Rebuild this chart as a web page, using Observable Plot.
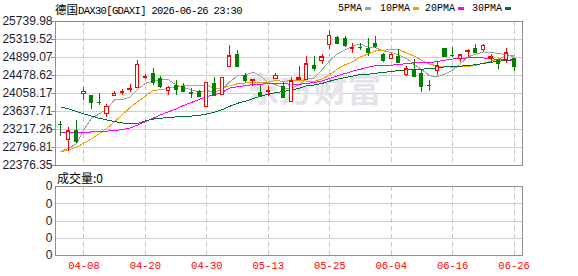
<!DOCTYPE html>
<html><head><meta charset="utf-8">
<script src="https://cdn.jsdelivr.net/npm/d3@7"></script>
<script src="https://cdn.jsdelivr.net/npm/@observablehq/plot@0.6"></script>
<style>
body{margin:0;background:#fff;}
#wrap{position:relative;width:578px;height:276px;overflow:hidden;background:#fff;}
#wrap > *{position:absolute;}
.mono{font-family:"Liberation Mono","DejaVu Sans Mono",monospace;}
.cjk{font-family:"Noto Sans CJK SC",sans-serif;}
</style></head><body><div id="wrap"></div>
<script>
// ---- data ----
const dates = ["04-01","04-02","04-07","04-08","04-09","04-10","04-13","04-14","04-15","04-16","04-17","04-20","04-21","04-22","04-23","04-24","04-27","04-28","04-29","04-30","05-04","05-05","05-06","05-07","05-08","05-11","05-12","05-13","05-14","05-15","05-18","05-19","05-20","05-21","05-22","05-25","05-26","05-27","05-28","05-29","06-01","06-02","06-03","06-04","06-05","06-08","06-09","06-10","06-11","06-12","06-15","06-16","06-17","06-18","06-19","06-22","06-23","06-24","06-25","06-26"];
const open = [23345,22970,23195,24041,24010,23850,23590,24005,24070,24150,24189,24420,24522,24406,24110,24250,24230,24075,24100,23738,24281,24033,24677,24964,24475,24360,24080,24100,24397,24227,23862,24385,24366,24716,24809,25197,25367,25352,25110,25140,25119,25220,24964,24871,24925,24483,24615,24530,24235,24576,25104,24955,24863,25030,25104,25080,24863,24832,24848,24871];
const high = [23412,23257,23430,24204,24015,24057,23800,24110,24150,24258,24824,24500,24646,24444,24227,24360,24290,24180,24126,24320,24436,24430,25174,25065,24537,24372,24250,24250,24522,24304,24436,24700,24925,24925,24980,25507,25390,25390,25230,25220,25336,25390,25003,24987,25080,24700,24848,24615,24359,24786,25110,25135,24980,25080,25197,25212,24980,24840,25104,24880];
const low = [23063,22698,22880,23901,23690,23784,23505,23980,24010,24087,24180,24380,24250,24173,24010,24020,24090,23935,23975,23730,23995,24015,24670,24690,24304,24227,23955,23994,24390,23955,23839,24380,24360,24576,24731,25080,25220,25135,25000,25065,24930,25100,24785,24865,24770,24460,24444,24072,24110,24483,24920,24902,24793,24902,25003,25026,24793,24615,24770,24576];
const close = [23330,23179,22946,24103,23839,23838,23746,24056,24085,24170,24731,24440,24305,24227,24189,24140,24110,24060,23995,24304,24010,24421,24933,24693,24366,24368,23986,24110,24475,23971,24343,24420,24747,24638,24910,25406,25236,25181,25120,25130,25026,25150,24832,24964,24793,24630,24460,24227,24245,24692,24925,24945,24956,25040,25026,25173,24910,24770,25003,24692];
const ma5 = [22700,22780,22880,23220,23479,23581,23694,23916,23913,23979,24158,24296,24346,24375,24378,24260,24194,24145,24099,24122,24096,24158,24333,24472,24485,24556,24469,24305,24261,24182,24177,24264,24391,24424,24612,24824,24987,25074,25171,25215,25139,25121,25052,25020,24953,24874,24736,24615,24471,24451,24510,24607,24753,24912,24978,25028,25021,24984,24976,24910];
const ma10 = [22700,22740,22800,22900,23000,23120,23250,23400,23560,23729,23869,23995,24131,24144,24179,24209,24245,24246,24237,24250,24178,24176,24239,24286,24303,24326,24314,24319,24367,24333,24367,24367,24348,24342,24397,24501,24626,24733,24797,24913,24981,25054,25063,25096,25084,25006,24929,24833,24746,24702,24692,24671,24684,24691,24715,24769,24814,24868,24944,24944];
const ma20 = [23150,23145,23140,23150,23160,23170,23180,23195,23215,23250,23320,23400,23480,23560,23630,23700,23780,23850,23920,23990,24024,24086,24185,24215,24241,24267,24279,24282,24302,24292,24272,24271,24293,24314,24350,24413,24470,24526,24582,24623,24674,24710,24705,24719,24740,24753,24777,24783,24771,24808,24837,24863,24873,24893,24899,24888,24871,24851,24845,24823];
const ma30 = [23745,23700,23640,23580,23530,23480,23440,23400,23370,23350,23360,23420,23460,23480,23500,23510,23520,23530,23550,23580,23620,23680,23760,23830,23880,23940,24000,24040,24080,24104,24138,24179,24239,24257,24293,24345,24395,24432,24467,24499,24509,24532,24550,24574,24595,24611,24623,24628,24637,24649,24680,24697,24698,24710,24732,24759,24789,24811,24829,24853];
const yTicks = [22376.35,22796.81,23217.26,23637.71,24058.17,24478.62,24899.07,25319.52,25739.98];
const xTickDates = ["04-08","04-20","04-30","05-13","05-25","06-04","06-16","06-26"];
const volTicks = [0,1,2,3,4];
const volTickLabels = ["0","0","0","0","0"];
const maNames = ["5PMA","10PMA","20PMA","30PMA"];
const titleCn = "德国";
const titleRest = "DAX30[GDAXI] 2026-06-26 23:30";
const volLabel = "成交量:0";
const watermark = "东方财富";

// ---- styling ----
const RED = "#ff0000", GRN = "#008000";
const maColors = ["#a0a0a0","#f0a000","#ff00ff","#006e30"];
const xRange = [56.15, 517.85];
const sty = {fontFamily:"'Liberation Sans',Arial,sans-serif", fontSize:"12px", background:"transparent", overflow:"visible", shapeRendering:"crispEdges"};

const rows = dates.map((d,i)=>({d, o:open[i], h:high[i], l:low[i], c:close[i]}));
const up = rows.filter(r=>r.c>=r.o), dn = rows.filter(r=>r.c<r.o);
const mas = [ma5,ma10,ma20,ma30];

const main = Plot.plot({
  width:578, height:170, marginTop:21, marginBottom:5, marginLeft:55, marginRight:56,
  style: sty,
  x:{type:"band", domain:dates, range:xRange, axis:null},
  y:{domain:[yTicks[0], yTicks[yTicks.length-1]], axis:null},
  marks:[
    Plot.gridY(yTicks, {stroke:"#d0d0d0", strokeOpacity:1}),
    Plot.ruleX(xTickDates, {stroke:"#c8c8c8", strokeDasharray:"5,3"}),
    Plot.text([watermark], {frameAnchor:"top-left", text:d=>d, dx:190, dy:56, lineAnchor:"top", textAnchor:"start", fontSize:34, fontWeight:"bold", fontFamily:"'Noto Sans CJK SC',sans-serif", fill:"#e3e3e9"}),
    ...mas.map((m,k)=>Plot.line(dates, {x:d=>d, y:(d,i)=>m[i], stroke:maColors[k], strokeWidth:1})),
    Plot.ruleX(up, {x:"d", y1:"l", y2:"h", stroke:RED}),
    Plot.ruleX(dn, {x:"d", y1:"l", y2:"h", stroke:GRN}),
    Plot.barY(dn, {x:"d", y1:"o", y2:"c", fill:GRN, insetLeft:1.4, insetRight:1.4}),
    Plot.barY(up, {x:"d", y1:"o", y2:"c", fill:"#fff", stroke:RED, insetLeft:1.85, insetRight:1.85}),
    Plot.tickY(dn, {x:"d", y:"c", stroke:GRN, insetLeft:1.4, insetRight:1.4}),
    Plot.tickY(up, {x:"d", y:"c", stroke:RED, insetLeft:1.4, insetRight:1.4}),
    Plot.frame({stroke:"#909090"}),
    Plot.axisY(yTicks, {tickSize:4, tickFormat:()=>"", color:"#909090"}),
    Plot.axisY(yTicks, {tickSize:0, tickPadding:3, tickFormat:d=>d.toFixed(2), color:"#1c1c30"})
  ]
});

const vol = Plot.plot({
  width:578, height:100, marginTop:10, marginBottom:21, marginLeft:55, marginRight:56,
  style: sty,
  x:{type:"band", domain:dates, range:xRange, axis:null},
  y:{domain:[volTicks[0], volTicks[volTicks.length-1]], axis:null},
  marks:[
    Plot.gridY(volTicks.slice(1,-1), {stroke:"#d0d0d0", strokeOpacity:1}),
    Plot.ruleX(xTickDates, {stroke:"#c8c8c8", strokeDasharray:"5,3"}),
    Plot.frame({stroke:"#909090"}),
    Plot.axisY(volTicks, {tickSize:0, tickPadding:3, tickFormat:(d,i)=>volTickLabels[i], color:"#1c1c30"}),
    Plot.axisX(xTickDates, {tickSize:0, tickPadding:6, tickFormat:d=>d, color:RED, fontSize:10.5, fontFamily:"'Liberation Mono','DejaVu Sans Mono',monospace"})
  ]
});

const wrap = document.getElementById("wrap");
main.style.left = "0px"; main.style.top = "0px";
vol.style.left = "0px"; vol.style.top = "176px";
wrap.appendChild(main);
wrap.appendChild(vol);

// title
const t = document.createElement("div");
t.style.cssText = "left:55px;top:1px;white-space:nowrap;line-height:16px;color:#000;";
t.innerHTML = `<span class="cjk" style="font-size:11.5px">${titleCn}</span><span class="mono" style="font-size:10.5px;letter-spacing:-0.65px">${titleRest}</span>`;
wrap.appendChild(t);

// legend
const legX = [338,380,425,472];
maNames.forEach((n,k)=>{
  const s = document.createElement("div");
  s.className = "mono";
  s.style.cssText = `left:${legX[k]}px;top:2px;font-size:10px;line-height:14px;color:#000;white-space:nowrap;`;
  s.textContent = n;
  wrap.appendChild(s);
  const sw = document.createElement("div");
  const w = n.length*6 + 3;
  sw.style.cssText = `left:${legX[k]+w}px;top:7px;width:6px;height:3px;background:${maColors[k]};`;
  wrap.appendChild(sw);
});

// volume label
const v = document.createElement("div");
v.className = "cjk";
v.style.cssText = "left:57px;top:170px;font-size:12px;line-height:16px;color:#000;white-space:nowrap;";
v.textContent = volLabel;
wrap.appendChild(v);
</script></body></html>
